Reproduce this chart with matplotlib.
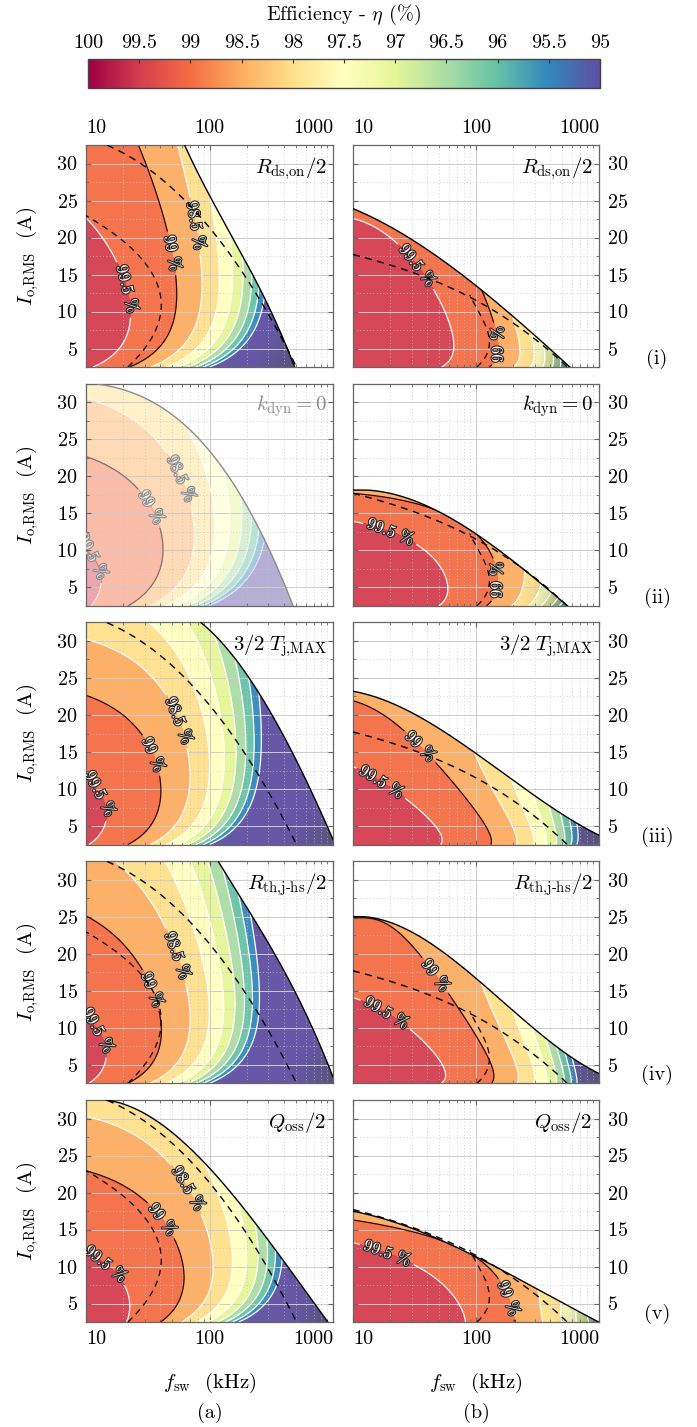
import numpy as np
import matplotlib.pyplot as plt
import matplotlib.patheffects as pe
from matplotlib.patches import Polygon
from matplotlib.cm import ScalarMappable
from matplotlib.colors import Normalize
from matplotlib.ticker import FixedLocator, LogLocator, MultipleLocator, NullFormatter

plt.rcParams.update({
    'font.family': 'serif',
    'font.serif': ['cmr10', 'DejaVu Serif'],
    'mathtext.fontset': 'cm',
    'axes.unicode_minus': False,
    'axes.formatter.use_mathtext': True,
})

# contour crossings (f_sw kHz, I_o A, efficiency %) for each design variant
a_rds_pts = [(10, 21.2, 99.5), (14.5, 19.4, 99.5), (19, 15.8, 99.5), (21.9, 12.2, 99.5), (20.9, 8.6, 99.5),
             (17.4, 5.0, 99.5), (12, 2.5, 99.5),
             (28.2, 32.5, 99), (37, 27.1, 99), (46.8, 22.1, 99), (53.7, 17.6, 99), (53.7, 12.2, 99),
             (50.1, 8.2, 99), (38.9, 4.6, 99), (20.9, 2.5, 99),
             (46.8, 32.5, 98.5), (77.6, 24.8, 98.5), (85, 19.0, 98.5), (93.3, 13.6, 98.5), (91.2, 9.1, 98.5),
             (72.4, 5.0, 98.5), (33, 2.5, 98.5),
             (120, 12.2, 98), (145, 12.2, 97.5), (170, 12.2, 97), (190, 12.2, 96.5), (219, 12.2, 96),
             (240, 12.2, 95.5),
             (43, 2.5, 98), (54, 2.5, 97.5), (65, 2.5, 97), (76, 2.5, 96.5), (87, 2.5, 96), (98, 2.5, 95.5)]
a_kdyn_pts = [(10, 10.4, 99.5), (12.4, 8.6, 99.5), (13.8, 5.4, 99.5), (12, 3.2, 99.5),
              (10, 22.7, 99), (20.4, 20.8, 99), (31.6, 16.3, 99), (38, 10.9, 99), (36, 7.3, 99),
              (28, 4.1, 99), (22, 2.5, 99),
              (10, 30.0, 98.5), (20.4, 28.5, 98.5), (38, 24.9, 98.5), (59, 19.5, 98.5), (71, 14.0, 98.5),
              (71, 9.5, 98.5), (56, 5.0, 98.5), (31.6, 2.5, 98.5),
              (105, 10, 98), (141, 10, 97.5), (178, 10, 97), (204, 10, 96.5), (234, 10, 96),
              (44, 2.5, 98), (55, 2.5, 97.5), (66, 2.5, 97), (77, 2.5, 96.5), (88, 2.5, 96), (99, 2.5, 95.5)]
a_tj_pts = [(10, 10.4, 99.5), (14.5, 7.3, 99.5), (11, 2.6, 99.5),
            (10, 22.8, 99), (18.6, 20.8, 99), (30.9, 16.3, 99), (38.9, 11.3, 99), (40.7, 9.1, 99),
            (34.7, 5.0, 99), (20.9, 2.5, 99),
            (10, 29.8, 98.5), (25.1, 27.1, 98.5), (44.7, 23.5, 98.5), (64.6, 18.1, 98.5), (72.4, 12.2, 98.5),
            (64.6, 6.4, 98.5), (33, 2.5, 98.5), (29.5, 32.5, 98),
            (100, 12.2, 98), (129, 12.2, 97.5), (158, 12.2, 97), (186, 12.2, 96.5), (209, 12.2, 96),
            (245, 12.2, 95.5),
            (44, 2.5, 98), (55, 2.5, 97.5), (67, 2.5, 97), (78, 2.5, 96.5), (89, 2.5, 96), (100, 2.5, 95.5)]
a_rth_pts = [(10, 10.8, 99.5), (14.5, 6.8, 99.5), (11, 2.6, 99.5),
             (10, 25.0, 99), (19, 21.4, 99), (38.9, 12.0, 99), (40, 9.1, 99), (34.7, 5.0, 99), (20.9, 2.5, 99),
             (20.4, 32.5, 98.5), (50, 23.0, 98.5), (64.6, 18.1, 98.5), (72.4, 12.2, 98.5), (64.6, 6.4, 98.5),
             (33, 2.5, 98.5), (35.5, 32.5, 98),
             (100, 12.2, 98), (129, 12.2, 97.5), (158, 12.2, 97), (186, 12.2, 96.5), (209, 12.2, 96),
             (245, 12.2, 95.5),
             (44, 2.5, 98), (55, 2.5, 97.5), (67, 2.5, 97), (78, 2.5, 96.5), (89, 2.5, 96), (100, 2.5, 95.5)]
a_qoss_pts = [(10, 11.9, 99.5), (15, 11.0, 99.5), (21, 7.9, 99.5), (23, 5.2, 99.5), (21, 2.5, 99.5),
              (10, 23.1, 99), (21, 21.3, 99), (35, 16.8, 99), (50, 11.9, 99), (58, 7.9, 99),
              (50, 4.3, 99), (42, 2.5, 99),
              (10, 30.0, 98.5), (29, 27.1, 98.5), (54, 23.1, 98.5), (89, 15.9, 98.5), (100, 11.5, 98.5),
              (93, 7.0, 98.5), (72, 3.4, 98.5),
              (155, 10, 98), (214, 10, 97.5), (257, 10, 97), (302, 10, 96.5), (331, 10, 96),
              (77, 2.5, 98), (96, 2.5, 97.5), (115, 2.5, 97), (135, 2.5, 96.5), (154, 2.5, 96),
              (173, 2.5, 95.5)]
b_rds_pts = [(10, 22.7, 99.5), (22.4, 19.2, 99.5), (41.7, 13.3, 99.5), (61.7, 8.3, 99.5), (67.6, 5.1, 99.5),
             (53.7, 2.5, 99.5),
             (110, 13.0, 99), (148, 9.2, 99), (155, 6.5, 99), (138, 3.8, 99), (120, 2.5, 99),
             (195, 8, 98.5), (214, 2.5, 98.5), (288, 2.5, 98), (347, 2.5, 97.5), (407, 2.5, 97),
             (479, 2.5, 96.5)]
b_kdyn_pts = [(10, 13.9, 99.5), (22.4, 12.3, 99.5), (37, 10.0, 99.5), (54, 7.3, 99.5), (59, 4.6, 99.5),
              (50, 2.5, 99.5),
              (89, 12.9, 99), (129, 10.0, 99), (148, 6.4, 99), (120, 2.5, 99),
              (195, 2.5, 98.5), (275, 2.5, 98), (339, 2.5, 97.5), (398, 2.5, 97), (479, 2.5, 96.5)]
b_tj_pts = [(10, 13.0, 99.5), (26.3, 8.9, 99.5), (44.7, 5.3, 99.5), (52.5, 2.6, 99.5),
            (10, 22.0, 99), (39, 14.8, 99), (83, 8.9, 99), (120, 4.8, 99), (132, 2.6, 99),
            (100, 14.5, 98.5), (207, 2.6, 98.5), (302, 2.6, 98), (380, 2.6, 97.5), (450, 2.6, 97),
            (520, 2.6, 96.5), (600, 2.6, 96), (650, 2.6, 95.5)]
b_rth_pts = [(10, 13.9, 99.5), (26, 11.0, 99.5), (44.7, 6.5, 99.5), (52.5, 2.5, 99.5),
             (10, 25.0, 99), (39, 18.2, 99), (83, 11.0, 99), (132, 5.1, 99), (135, 2.5, 99),
             (110, 16.5, 98.5), (207, 2.5, 98.5), (302, 2.5, 98), (380, 2.5, 97.5), (450, 2.5, 97),
             (520, 2.5, 96.5), (600, 2.5, 96), (650, 2.5, 95.5)]
b_qoss_pts = [(10, 13.2, 99.5), (22.4, 11.5, 99.5), (41.7, 8.8, 99.5), (69, 5.6, 99.5), (81, 3.4, 99.5),
              (83, 2.5, 99.5),
              (74, 12.4, 99), (148, 8.8, 99), (186, 5.2, 99), (195, 2.5, 99),
              (372, 2.5, 98.5), (513, 2.5, 98), (661, 2.5, 97.5), (794, 2.5, 97)]

# thermal limit of each variant (f_sw kHz, I_o A)
a_rds_edge = [(63, 32.5), (87, 27.5), (135, 21.7), (200, 16.7), (269, 12.2), (372, 7.3), (490, 2.5)]
a_kdyn_edge = [(12.4, 32.5), (38, 29.4), (98, 24.0), (182, 17.2), (282, 10.9), (479, 2.5)]
a_tj_edge = [(85, 32.5), (155, 28.0), (269, 22.1), (417, 16.7), (562, 12.2), (776, 7.3), (1000, 3.2)]
a_rth_edge = [(117, 32.5), (200, 26.5), (316, 20.5), (589, 12.4), (1000, 3.3)]
a_qoss_edge = [(14.5, 32.5), (39, 29.4), (100, 23.5), (186, 17.7), (331, 12.8), (575, 7.0), (891, 2.7)]
b_rds_edge = [(10, 23.9), (22.4, 21.0), (50, 17.3), (100, 13.5), (200, 9.2), (372, 5.6), (537, 2.9)]
b_kdyn_edge = [(10, 18.2), (22.4, 17.3), (41.7, 15.9), (77.6, 13.6), (129, 10.9), (240, 7.3), (372, 5.0),
               (537, 2.7)]
b_tj_edge = [(10, 23.2), (39, 19.3), (100, 14.8), (257, 9.8), (562, 6.2), (1000, 3.7)]
b_rth_edge = [(10, 25.1), (39, 21.4), (100, 17.3), (257, 10.6), (562, 6.0), (1000, 4.0)]
b_qoss_edge = [(10, 17.5), (22.4, 15.9), (41.7, 14.1), (100, 11.5), (200, 8.8), (372, 6.1), (955, 2.7)]

# reference design: thermal limit and 99 % line (dashed)
a_ref_edge = [(13.8, 32.5), (28.2, 30.3), (50.1, 27.0), (74.1, 23.3), (126, 18.5), (214, 14.2),
              (347, 8.5), (462, 3.2)]
b_ref_edge = [(10, 17.7), (22.4, 16.0), (50, 14.0), (100, 11.4), (200, 8.4), (372, 5.2), (537, 2.6)]
a_ref_99 = [(10, 22.8), (18.6, 20.3), (30.9, 16.3), (38, 11.8), (38, 8.2), (32.4, 5.0), (20.9, 2.5)]
b_ref_99 = [(95, 11.3), (120, 8.0), (129, 5.6), (120, 4.0), (102, 2.5)]

# contour label anchors (f_sw kHz, I_o A): 99.5 %, 99 %, 98.5 %
a_rds_lab = [(22.4, 13.1), (58.9, 18.1), (83, 21.7)]
a_kdyn_lab = [(14, 10.4), (38, 16.3), (56, 19.5)]
a_tj_lab = [(15, 10.0), (38, 14.9), (60, 19.4)]
a_rth_lab = [(15, 10.5), (39, 15.5), (63, 20.1)]
a_qoss_lab = [(17, 11.9), (42, 16.4), (65, 20.4)]
b_rds_lab = [(32, 16.0), (160, 5.6)]
b_kdyn_lab = [(21, 13.2), (150, 6.0)]
b_tj_lab = [(19.5, 12.5), (42, 17.0)]
b_rth_lab = [(20, 12.8), (49, 17.3)]
b_qoss_lab = [(20, 12.8), (215, 6.1)]

tags = [r'$R_{\mathrm{ds{,}on}}/2$', r'$k_{\mathrm{dyn}}=0$', r'$3/2\;T_{\mathrm{j{,}MAX}}$',
        r'$R_{\mathrm{th{,}j}\text{-}\mathrm{hs}}/2$', r'$Q_{\mathrm{oss}}/2$']
row_names = ['(i)', '(ii)', '(iii)', '(iv)', '(v)']
cbar_ticks = [100, 99.5, 99, 98.5, 98, 97.5, 97, 96.5, 96, 95.5, 95]
levels = [95.5, 96, 96.5, 97, 97.5, 98, 98.5, 99, 99.5]
label_levels = [99.5, 99, 98.5]

cmap = plt.get_cmap('Spectral')
band_colors = [cmap(1.0)] + [cmap((100 - lv) / 5) for lv in levels]
fill_levels = [80] + levels + [100]

W, H = 697, 1427
fig = plt.figure(figsize=(W / 100, H / 100), dpi=100)


def px_axes(x, y, w, h):
    return fig.add_axes([x / W, 1 - (y + h) / H, w / W, h / H])


u_grid = np.linspace(0, 2, 500)
i_grid = np.linspace(2.5, 32.5, 500)
U, II = np.meshgrid(u_grid, i_grid)
F = 10 ** (1 + U)
ub = np.linspace(0, 2, 400)
fb = 10 ** (1 + ub)


def loss_terms(f, s):
    # fixed, conduction and switching parts of the loss share, g = f / 100 kHz
    g = f / 100
    return np.stack([np.ones_like(s), 1 / s, s, s * s, g, g * s, g / s], -1)


def log_terms(f, s):
    u = np.log10(f) - 1
    return np.stack([np.ones_like(u), u, s, u * u, u * s, s * s, 1 / s, u / s, u * u / s], -1)


def fit_field(pts, log_fit):
    f, i, eta = np.asarray(pts, float).T
    loss = 100 - eta
    s = i / 10
    if log_fit:
        coef = np.linalg.lstsq(log_terms(f, s), np.log(loss), rcond=None)[0]
        grid_loss = np.exp(np.clip(log_terms(F, II / 10) @ coef, -10, 4))
    else:
        rows = loss_terms(f, s) / loss[:, None]
        coef = np.linalg.lstsq(rows, np.ones_like(loss), rcond=None)[0]
        grid_loss = np.clip(loss_terms(F, II / 10) @ coef, 0.02, 20)
    return 100 - grid_loss


def edge_curve(edge):
    f, i = np.asarray(edge, float).T
    ue = np.log10(f) - 1
    c = np.polyfit(ue, i, min(3, len(ue) - 1))
    ib = np.where(ub < ue.min(), 40, np.polyval(c, ub))
    return np.minimum.accumulate(np.clip(ib, -5, 40))


def style_axes(ax, row, col):
    ax.set_xscale('log')
    ax.set_xlim(10, 1000)
    ax.set_ylim(2.5, 32.5)
    ax.set_autoscale_on(False)
    ax.xaxis.set_major_locator(FixedLocator([10, 100, 1000]))
    ax.xaxis.set_minor_locator(LogLocator(base=10, subs=np.arange(2, 10)))
    ax.xaxis.set_minor_formatter(NullFormatter())
    ax.set_xticklabels(['10', '100', '1000'])
    ax.yaxis.set_major_locator(FixedLocator([5, 10, 15, 20, 25, 30]))
    ax.yaxis.set_minor_locator(MultipleLocator(2.5))
    ax.grid(True, which='major', color='#cccccc', lw=0.7)
    ax.grid(True, which='minor', color='#c4c4c4', lw=0.6, ls=(0, (1, 3)))
    ax.tick_params(which='both', direction='in', top=True, right=True, color='#666666',
                   labelsize=14.5, pad=6)
    ax.tick_params(which='major', length=3.5)
    ax.tick_params(which='minor', length=2)
    ax.tick_params(labelbottom=(row == 4), labeltop=(row == 0),
                   labelleft=(col == 0), labelright=(col == 1))
    ticks = ax.xaxis.get_major_ticks()
    for t, ha in zip(ticks, ['left', 'center', 'right']):
        t.label1.set_ha(ha)
        t.label2.set_ha(ha)
    for s in ax.spines.values():
        s.set_edgecolor('#666666')
        s.set_linewidth(0.9)


def has_level(cs):
    return any(len(p.vertices) for p in cs.get_paths())


def draw_panel(ax, eta, edge, lab_pos, faded):
    ib = edge_curve(edge)
    clip = Polygon(np.vstack([np.column_stack([fb, ib]), [[1000, -5], [10, -5]]]),
                   closed=True, transform=ax.transData)
    alpha = 0.45 if faded else 0.95
    edge_col = '#8c8c8c' if faded else 'black'
    dark_col = '#8a7070' if faded else '#2b0b0b'
    stroke = '#8c8c8c' if faded else '#262626'

    cf = ax.contourf(F, II, np.maximum(eta, 81), levels=fill_levels, colors=band_colors, alpha=alpha)
    cf.set_clip_path(clip)

    if not faded:
        # darker tint towards the far tip of the operating area
        k = np.argmax(ib <= 2.5) if (ib <= 2.5).any() else len(ub) - 1
        tip = (ub[k] / 2, (max(ib[k], 2.5) - 2.5) / 30)
        xa, ya = np.meshgrid(np.linspace(0, 1, 200), np.linspace(0, 1, 200))
        d = np.hypot(xa - tip[0], (ya - tip[1]) * 0.9)
        shade = np.zeros(xa.shape + (4,))
        shade[..., :3] = 0.3
        shade[..., 3] = 0.55 * np.clip(1 - d / 0.22, 0, 1) ** 2
        im = ax.imshow(shade, extent=(0, 1, 0, 1), transform=ax.transAxes, origin='lower',
                       aspect='auto', zorder=1.1, interpolation='bilinear')
        im.set_clip_path(clip)

    plain = [lv for lv in levels if lv not in label_levels[:len(lab_pos)] and lv != 99]
    cw = ax.contour(F, II, eta, levels=plain, colors='white', linewidths=0.9,
                    alpha=0.8 if faded else 1.0)
    cw.set_clip_path(clip)
    ax.plot(fb, ib, color=edge_col, lw=1.0, zorder=4)

    for lv, pos in zip(label_levels, lab_pos):
        color = dark_col if lv == 99 else 'white'
        cs = ax.contour(F, II, eta, levels=[lv], colors=[color], linewidths=0.9,
                        alpha=0.8 if (faded and lv != 99) else 1.0)
        cs.set_clip_path(clip)
        if not has_level(cs):
            continue
        texts = ax.clabel(cs, manual=[pos], fmt=lambda v: f'{v:g} %', fontsize=12,
                          inline=True, inline_spacing=4, colors='white')
        for t in texts:
            t.set_path_effects([pe.withStroke(linewidth=1.6, foreground=stroke)])


def draw_reference(ax, ref_edge, ref_99, show_inner):
    ob = edge_curve(ref_edge)
    ax.plot(fb, ob, color='black', lw=1.0, ls=(0, (5, 4)), zorder=4)
    if show_inner:
        f, i = np.asarray(ref_99, float).T
        c = np.polyfit(i, np.log10(f) - 1, 3)
        ii = np.linspace(2.5, i.max() + 1.5, 300)
        uu = np.polyval(c, ii)
        lim = np.interp(uu, ub, ob)
        uu = np.where(ii <= lim + 0.3, uu, np.nan)
        ax.plot(10 ** (1 + uu), ii, color='black', lw=0.9, ls=(0, (5, 4)), zorder=4)


# column (a): loss share linear in f_sw; column (b): smooth log-loss surface
columns = [
    ([a_rds_pts, a_kdyn_pts, a_tj_pts, a_rth_pts, a_qoss_pts],
     [a_rds_edge, a_kdyn_edge, a_tj_edge, a_rth_edge, a_qoss_edge],
     [a_rds_lab, a_kdyn_lab, a_tj_lab, a_rth_lab, a_qoss_lab], a_ref_edge, a_ref_99, False),
    ([b_rds_pts, b_kdyn_pts, b_tj_pts, b_rth_pts, b_qoss_pts],
     [b_rds_edge, b_kdyn_edge, b_tj_edge, b_rth_edge, b_qoss_edge],
     [b_rds_lab, b_kdyn_lab, b_tj_lab, b_rth_lab, b_qoss_lab], b_ref_edge, b_ref_99, True),
]
col_x = [(86, 247), (353, 246)]
row_top = [145 + r * 238.75 for r in range(5)]
panel_h = 222

for col, (pts_list, edge_list, lab_list, ref_edge, ref_99, log_fit) in enumerate(columns):
    x0, w = col_x[col]
    for row in range(5):
        ax = px_axes(x0, row_top[row], w, panel_h)
        faded = (col == 0 and row == 1)
        style_axes(ax, row, col)
        eta = fit_field(pts_list[row], log_fit)
        draw_panel(ax, eta, edge_list[row], lab_list[row], faded)
        if not faded:
            draw_reference(ax, ref_edge, ref_99, show_inner=(row != 2))
        ax.text(0.975, 0.955, tags[row], transform=ax.transAxes, ha='right', va='top',
                fontsize=15, color='#8c8c8c' if faded else 'black', zorder=6)
    cx = (x0 + w / 2) / W
    fig.text(cx, 1 - 1383 / H, r'$f_{\mathrm{sw}}$  (kHz)', ha='center', va='center', fontsize=15)
    fig.text(cx, 1 - 1413 / H, '(a)' if col == 0 else '(b)', ha='center', va='center', fontsize=14.5)

for row in range(5):
    yc = 1 - (row_top[row] + panel_h / 2) / H
    fig.text(28 / W, yc, r'$I_{\mathrm{o{,}RMS}}$  (A)', rotation=90, ha='center', va='center',
             fontsize=15)
    fig.text(657 / W, 1 - (row_top[row] + panel_h - 8) / H, row_names[row], ha='center',
             va='center', fontsize=14.5)

# colour scale
cax = px_axes(88, 59, 512, 29)
sm = ScalarMappable(norm=Normalize(95, 100), cmap='Spectral_r')
cb = fig.colorbar(sm, cax=cax, orientation='horizontal')
cax.set_xlim(100, 95)
cb.set_ticks(cbar_ticks)
cb.set_ticklabels([f'{v:g}' for v in cbar_ticks])
cax.xaxis.set_ticks_position('top')
cax.tick_params(direction='in', length=3, labelsize=14.5, pad=5, color='#333333')
cax.minorticks_off()
cb.outline.set_edgecolor('#444444')
cb.outline.set_linewidth(1.0)
fig.text(344 / W, 1 - 15 / H, r'Efficiency - $\eta$ (%)', ha='center', va='center', fontsize=14.5)

fig.savefig('out.png', dpi=100)
